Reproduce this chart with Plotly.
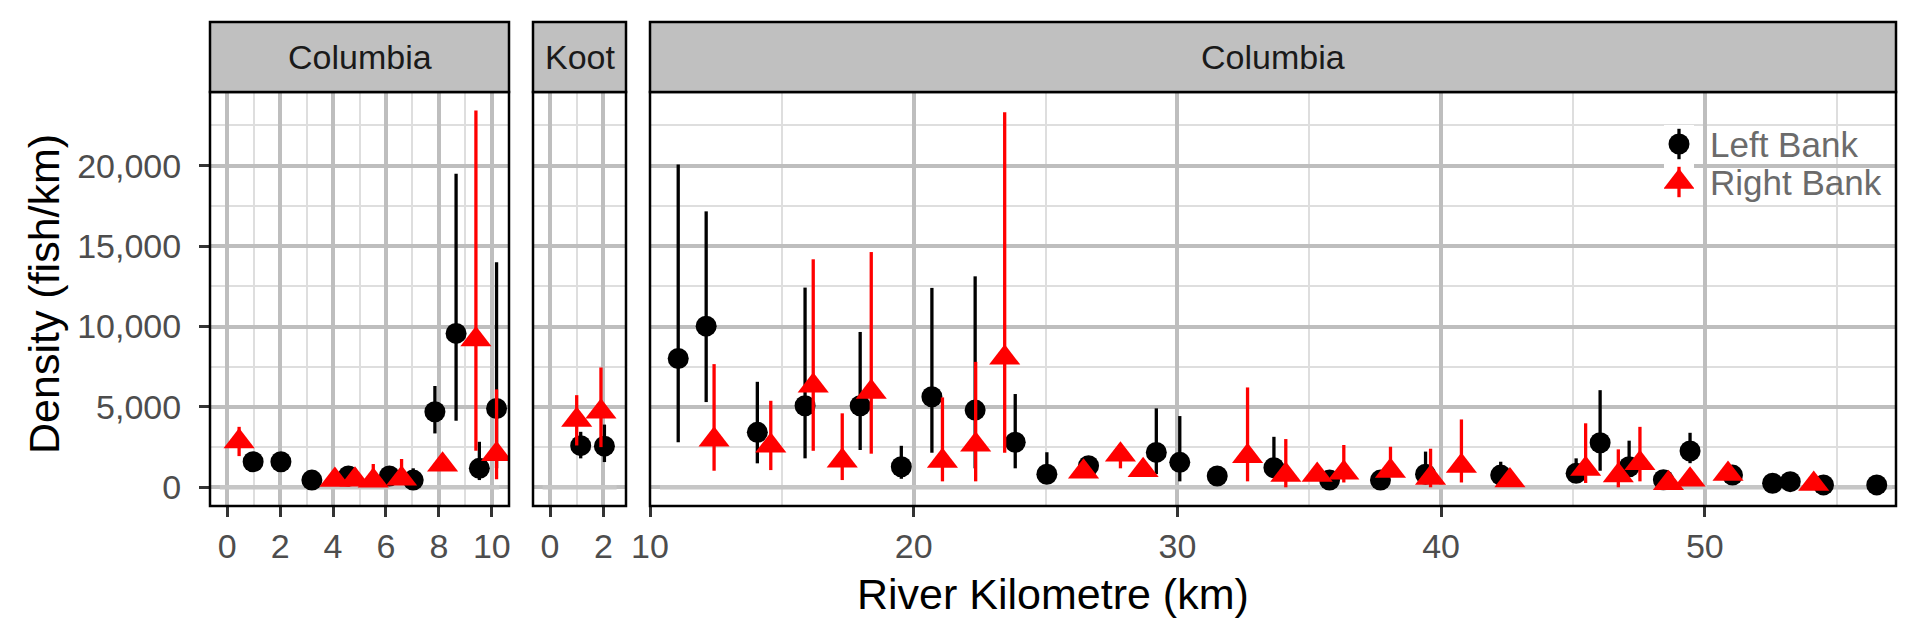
import numpy as np
import plotly.graph_objects as go

W, H = 1920, 633
FONT = "Liberation Sans, Arial, Helvetica, sans-serif"

# ---------------- data ----------------
facets = ["Columbia", "Koot", "Columbia"]
x_ranges = [[-0.65, 10.65], [-0.64, 2.85], [10.0, 57.25]]
x_ticks = [[0, 2, 4, 6, 8, 10], [0, 2], [10, 20, 30, 40, 50]]
x_minor = [[1, 3, 5, 7, 9], [1], [15, 25, 35, 45, 55]]
y_range = [-1163, 24583]
y_ticks = [0, 5000, 10000, 15000, 20000]
y_minor = [2500, 7500, 12500, 17500, 22500]
zero_seg = [[-0.28, 10.28], [-0.28, 2.5], [10.38, 57.1]]

# Left Bank (black circles), per facet
left_x = [
    [0.98, 2.03, 3.20, 4.58, 6.13, 7.03, 7.85, 8.65, 9.53, 10.18],
    [1.15, 2.04],
    [11.07, 12.13, 14.07, 15.88, 17.97, 19.53, 20.69, 22.33, 23.85, 25.05,
     26.63, 29.20, 30.09, 31.51, 33.66, 35.77, 37.70, 39.41, 42.26, 45.12,
     46.03, 47.13, 48.43, 49.44, 51.05, 52.57, 53.24, 54.50, 56.52],
]
left_y = [
    [1590, 1590, 450, 700, 700, 450, 4700, 9570, 1180, 4900],
    [2590, 2560],
    [8010, 10020, 3420, 5070, 5070, 1280, 5630, 4800, 2800, 810,
     1340, 2170, 1550, 700, 1220, 450, 450, 810, 760, 870,
     2770, 1280, 470, 2260, 760, 250, 350, 150, 150],
]
left_lo = [
    [1300, 1300, 200, 450, 450, 200, 3350, 4140, 450, 1180],
    [1800, 1570],
    [2800, 5300, 1490, 1800, 2320, 530, 2150, 1180, 1180, 450,
     1000, 820, 370, 450, 700, 200, 200, 500, 500, 500,
     1030, 700, 250, 1500, 500, 100, 150, 0, 0],
]
left_hi = [
    [1900, 1900, 700, 950, 950, 1180, 6300, 19500, 2830, 14000],
    [3450, 3900],
    [20080, 17160, 6560, 12420, 9660, 2580, 12400, 13120, 5800, 2180,
     1700, 4910, 4430, 1000, 3140, 700, 700, 2220, 1590, 1800,
     6040, 2900, 700, 3390, 1000, 400, 500, 300, 300],
]

# Right Bank (red triangles), per facet
right_x = [
    [0.45, 4.07, 4.83, 5.52, 6.59, 8.14, 9.40, 10.18],
    [1.00, 1.91],
    [12.43, 14.58, 16.19, 17.29, 18.39, 21.09, 22.35, 23.45, 26.44, 27.84,
     28.70, 32.66, 34.11, 35.30, 36.31, 38.08, 39.60, 40.77, 42.61, 45.48,
     46.72, 47.54, 48.62, 49.44, 50.88, 54.13],
]
right_y = [
    [2850, 450, 470, 410, 530, 1400, 9190, 2050],
    [4180, 4700],
    [2950, 2580, 6310, 1650, 5920, 1630, 2650, 8050, 970, 2030,
     1060, 1930, 760, 760, 910, 1010, 580, 1320, 430, 1140,
     730, 1490, 250, 470, 820, 200],
]
right_lo = [
    [1940, 200, 200, 150, 250, 1100, 2270, 500],
    [2600, 2500],
    [1030, 1070, 2270, 450, 2090, 370, 370, 2150, 700, 1180,
     800, 370, 0, 500, 300, 700, 0, 300, 200, 270,
     0, 370, 50, 250, 600, 50],
]
right_hi = [
    [3760, 700, 700, 1450, 1760, 1700, 23430, 6090],
    [5730, 7450],
    [7660, 5380, 14180, 4600, 14630, 5590, 7800, 23330, 1300, 2380,
     1350, 6210, 3000, 1000, 2630, 2520, 2400, 4220, 700, 3980,
     2360, 3760, 500, 700, 1100, 400],
]

banks = ["Left Bank", "Right Bank"]
bank_colors = ["#000000", "#FF0000"]
bank_symbols = ["circle", "triangle-up"]
bank_sizes = [21, 27]

# ---------------- layout geometry (pixels) ----------------
panel_px = [(210, 509), (533, 626), (650, 1896)]
panel_top, panel_bottom, strip_top = 92, 506, 22

fig = go.Figure()

series = [
    (left_x, left_y, left_lo, left_hi),
    (right_x, right_y, right_lo, right_hi),
]

for i in range(3):
    xa = "x" if i == 0 else f"x{i+1}"
    ya = "y" if i == 0 else f"y{i+1}"
    fig.add_trace(go.Scatter(
        x=zero_seg[i], y=[0, 0], mode="lines",
        line=dict(color="#C6C6C6", width=4.5),
        xaxis=xa, yaxis=ya, showlegend=False, hoverinfo="skip"))
    for b in range(2):
        xs, ys, los, his = series[b]
        yv = np.array(ys[i], dtype=float)
        lo = np.array(los[i], dtype=float)
        hi = np.array(his[i], dtype=float)
        fig.add_trace(go.Scatter(
            x=xs[i], y=yv, mode="markers", name=banks[b],
            marker=dict(symbol=bank_symbols[b], size=bank_sizes[b],
                        color=bank_colors[b], line=dict(width=0)),
            error_y=dict(type="data", symmetric=False,
                         array=np.clip(hi - yv, 0, None),
                         arrayminus=np.clip(yv - lo, 0, None),
                         width=0, thickness=3.3, color=bank_colors[b]),
            xaxis=xa, yaxis=ya, showlegend=False))

# legend keys drawn on their own small hidden axes
for b in range(2):
    fig.add_trace(go.Scatter(
        x=[0], y=[b], mode="markers",
        marker=dict(symbol=bank_symbols[b], size=bank_sizes[b],
                    color=bank_colors[b], line=dict(width=0)),
        error_y=dict(type="data", array=[0.4], width=0, thickness=3.3,
                     color=bank_colors[b]),
        xaxis="x4", yaxis="y4", showlegend=False, hoverinfo="skip"))

layout = dict(
    width=W, height=H, autosize=False,
    margin=dict(l=0, r=0, t=0, b=0, pad=0),
    paper_bgcolor="white", plot_bgcolor="white",
    font=dict(family=FONT, size=34, color="#4D4D4D"),
    showlegend=False,
)

ydom = [1 - panel_bottom / H, 1 - panel_top / H]
shapes = []
annotations = []
for i in range(3):
    xname = "xaxis" if i == 0 else f"xaxis{i+1}"
    yname = "yaxis" if i == 0 else f"yaxis{i+1}"
    xa = "x" if i == 0 else f"x{i+1}"
    ya = "y" if i == 0 else f"y{i+1}"
    x0, x1 = panel_px[i]
    layout[xname] = dict(
        domain=[x0 / W, x1 / W], range=x_ranges[i], autorange=False,
        automargin=False,
        anchor=ya, tickmode="array", tickvals=x_ticks[i],
        ticks="outside", ticklen=10, tickwidth=2.5, tickcolor="#333333",
        tickfont=dict(size=34, color="#4D4D4D", family=FONT),
        showgrid=True, gridcolor="#BEBEBE", gridwidth=3.5,
        minor=dict(tickmode="array", tickvals=x_minor[i], showgrid=True,
                   gridcolor="#DEDEDE", gridwidth=1.8, ticks=""),
        zeroline=False, showline=False,
    )
    layout[yname] = dict(
        domain=ydom, range=y_range, autorange=False, anchor=xa,
        automargin=False,
        tickmode="array", tickvals=y_ticks, tickformat=",d",
        ticks="outside" if i == 0 else "", ticklen=10, tickwidth=2.5,
        tickcolor="#333333", showticklabels=(i == 0),
        ticklabelstandoff=11,
        tickfont=dict(size=34, color="#4D4D4D", family=FONT),
        showgrid=True, gridcolor="#BEBEBE", gridwidth=3.5,
        minor=dict(tickmode="array", tickvals=y_minor, showgrid=True,
                   gridcolor="#DEDEDE", gridwidth=1.8, ticks=""),
        zeroline=False, showline=False,
    )
    shapes.append(dict(type="rect", xref=f"{xa} domain", yref=f"{ya} domain",
                       x0=0, x1=1, y0=0, y1=1, layer="above",
                       line=dict(color="black", width=2.5),
                       fillcolor="rgba(0,0,0,0)"))
    shapes.append(dict(type="rect", xref=f"{xa} domain", yref="paper",
                       x0=0, x1=1, y0=1 - panel_top / H, y1=1 - strip_top / H,
                       layer="above", line=dict(color="black", width=2.5),
                       fillcolor="#C0C0C0"))
    annotations.append(dict(text=facets[i], xref=f"{xa} domain", x=0.5,
                            yref="paper", y=1 - 57 / H, showarrow=False,
                            xanchor="center", yanchor="middle",
                            font=dict(size=34, color="#1A1A1A", family=FONT)))

layout["xaxis4"] = dict(domain=[1664 / W, 1694 / W], range=[-1, 1],
                        autorange=False, visible=False, anchor="y4",
                        automargin=False)
layout["yaxis4"] = dict(domain=[1 - 201 / H, 1 - 125 / H], range=[1.5, -0.5],
                        autorange=False, visible=False, anchor="x4",
                        automargin=False)
for b in range(2):
    annotations.append(dict(text=banks[b], xref="paper", x=1708 / W,
                            yref="y4", y=b, showarrow=False,
                            xanchor="left", yanchor="middle",
                            font=dict(size=35, color="#6B6B6B", family=FONT)))

annotations.append(dict(text="River Kilometre (km)", xref="paper", yref="paper",
                        x=1053 / W, y=1 - 594 / H, showarrow=False,
                        xanchor="center", yanchor="middle",
                        font=dict(size=43, color="black", family=FONT)))
annotations.append(dict(text="Density (fish/km)", xref="paper", yref="paper",
                        x=44 / W, y=1 - 294 / H, showarrow=False, textangle=-90,
                        xanchor="center", yanchor="middle",
                        font=dict(size=43, color="black", family=FONT)))

layout["shapes"] = shapes
layout["annotations"] = annotations
fig.update_layout(**layout)

fig.write_html("out.html")
